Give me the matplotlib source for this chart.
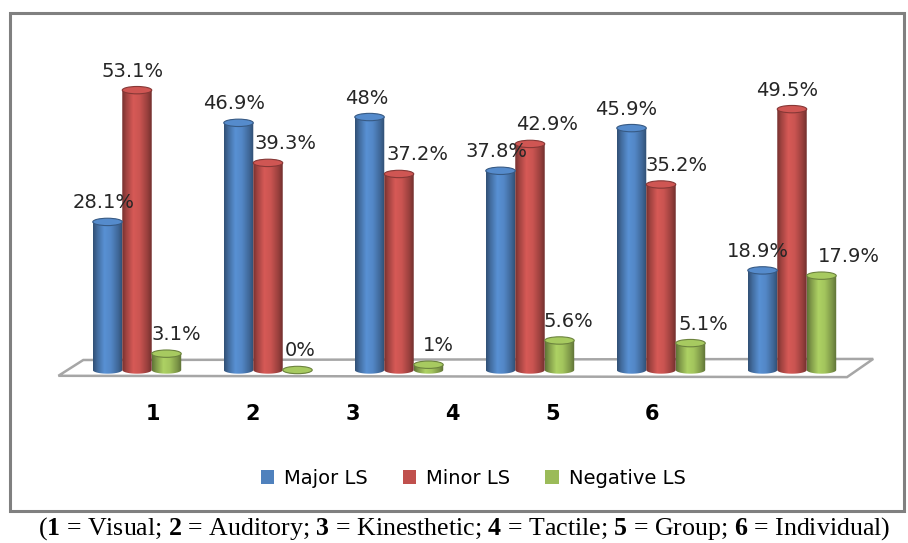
import matplotlib
matplotlib.use("Agg")
import matplotlib.pyplot as plt
import matplotlib.patches as patches
from matplotlib.colors import to_rgb, LinearSegmentedColormap
import numpy as np

# learning style groups and percentages
categories = ['1', '2', '3', '4', '5', '6']
series_names = ['Major LS', 'Minor LS', 'Negative LS']
major_ls = [28.1, 46.9, 48.0, 37.8, 45.9, 18.9]
minor_ls = [53.1, 39.3, 37.2, 42.9, 35.2, 49.5]
negative_ls = [3.1, 0.0, 1.0, 5.6, 5.1, 17.9]
value_labels = [
    ['28.1%', '46.9%', '48%', '37.8%', '45.9%', '18.9%'],
    ['53.1%', '39.3%', '37.2%', '42.9%', '35.2%', '49.5%'],
    ['3.1%', '0%', '1%', '5.6%', '5.1%', '17.9%'],
]
caption_parts = [('1', 'Visual'), ('2', 'Auditory'), ('3', 'Kinesthetic'),
                 ('4', 'Tactile'), ('5', 'Group'), ('6', 'Individual')]

# horizontal nudges (pixels) for the value labels so they don't collide
label_dx = [
    [-4, -4, -3, -4, -5, -5],
    [-4, 18, 19, 17, 16, -5],
    [10, 3, 10, 9, 13, 27],
]

colors = ['#4F81BD', '#C0504D', '#9BBB59']

plt.rcParams['mathtext.fontset'] = 'custom'
plt.rcParams['mathtext.rm'] = 'Liberation Serif'
plt.rcParams['mathtext.bf'] = 'Liberation Serif:bold'

W, H = 908, 543
fig = plt.figure(figsize=(W / 100, H / 100), dpi=100)

# axes: x unit = 131 px per group, y unit = 5.27 px per percent
px_unit_x = 131.0
px_unit_y = 5.27
x_left, x_right = -0.61, 5.63
y_bot, y_top = -4.0, 62.0
ax_left_px = 137 + x_left * px_unit_x
ax_w_px = (x_right - x_left) * px_unit_x
ax_bot_px = (H - 370) + y_bot * px_unit_y
ax_h_px = (y_top - y_bot) * px_unit_y
ax = fig.add_axes([ax_left_px / W, ax_bot_px / H, ax_w_px / W, ax_h_px / H])
ax.set_xlim(x_left, x_right)
ax.set_ylim(y_bot, y_top)
ax.axis('off')

# floor of the 3D plot area
floor = patches.Polygon([(-0.60, -1.1), (-0.41, 1.9), (5.62, 2.1), (5.42, -1.35)],
                        closed=True, facecolor='white', edgecolor='#A6A6A6',
                        linewidth=1.8, zorder=1)
ax.add_patch(floor)

bar_w = 0.225
x = np.arange(len(categories))
ell_h = 1.4


def shade_cmap(c):
    r = np.array(to_rgb(c))
    stops = [np.clip(r * 0.62, 0, 1), np.clip(r * 0.85, 0, 1),
             np.clip(r * 1.12, 0, 1), np.clip(r * 1.05, 0, 1),
             np.clip(r * 0.80, 0, 1), np.clip(r * 0.60, 0, 1)]
    return LinearSegmentedColormap.from_list('cyl', list(zip([0, 0.15, 0.38, 0.6, 0.85, 1], stops)))


grad = np.linspace(0, 1, 64).reshape(1, -1)
all_series = [major_ls, minor_ls, negative_ls]
for s, (vals, col) in enumerate(zip(all_series, colors)):
    bars = ax.bar(x + (s - 1) * bar_w, vals, bar_w, color='none', edgecolor='none', zorder=3)
    cmap = shade_cmap(col)
    rgb = np.array(to_rgb(col))
    for b, v, lab, dx in zip(bars, vals, value_labels[s], label_dx[s]):
        x0 = b.get_x()
        x1 = x0 + b.get_width()
        cx = (x0 + x1) / 2
        # cylinder body: rectangle plus rounded bottom
        t = np.linspace(np.pi, 2 * np.pi, 30)
        bottom = np.column_stack([cx + (bar_w / 2) * np.cos(t), (ell_h / 2) * np.sin(t)])
        body = np.vstack([[x0, v], bottom, [x1, v]])
        clip = patches.Polygon(body, closed=True, facecolor='none', edgecolor='none')
        ax.add_patch(clip)
        im = ax.imshow(grad, cmap=cmap, extent=[x0, x1, -ell_h, max(v, 0.01)],
                       aspect='auto', zorder=3, interpolation='bilinear')
        im.set_clip_path(clip)
        # cylinder cap
        cap = patches.Ellipse((cx, v), bar_w, ell_h, facecolor=np.clip(rgb * 1.08, 0, 1),
                              edgecolor=np.clip(rgb * 0.7, 0, 1), linewidth=0.8, zorder=4)
        ax.add_patch(cap)
        ax.annotate(lab, xy=(cx, v), xytext=(dx, 19), textcoords='offset pixels',
                    ha='center', va='center', fontsize=14, color='#262626',
                    family='DejaVu Sans', zorder=6)

ax.set_aspect('auto')

# category labels (spread differently from the bars because of the perspective)
for i, c in enumerate(categories):
    fig.text((153 + 99.8 * i) / W, 1 - 414 / H, c, ha='center', va='center',
             fontsize=15, fontweight='bold', color='black')

# legend
handles = [patches.Patch(facecolor=c, edgecolor='none') for c in colors]
fig.legend(handles, series_names, loc='center', bbox_to_anchor=(473 / W, 1 - 478 / H),
           ncol=3, frameon=False, handlelength=0.7, handleheight=0.7,
           handletextpad=0.5, columnspacing=1.8, prop={'family': 'DejaVu Sans', 'size': 14})

# chart border
fig.patches.append(patches.Rectangle((10 / W, 1 - 511 / H), (904 - 10) / W, (511 - 13) / H,
                                     transform=fig.transFigure, fill=False,
                                     edgecolor='#808080', linewidth=2.2))

caption = '(' + '; '.join(r'$\mathbf{%s}$ = %s' % (n, name) for n, name in caption_parts) + ')'
fig.text(464 / W, 1 - 529 / H, caption, ha='center', va='center', fontsize=18.6,
         family='Liberation Serif', color='black')

fig.savefig('out.png', dpi=100)
